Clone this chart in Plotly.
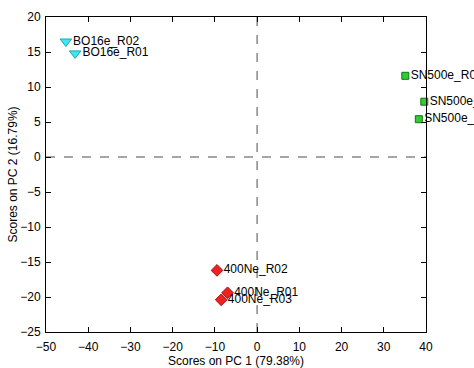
import plotly.graph_objects as go

# PCA scores per sample group
bo_names = ["BO16e_R02", "BO16e_R01"]
bo_pc1 = [-45.3, -43.1]
bo_pc2 = [16.5, 14.8]

sn_names = ["SN500e_R01", "SN500e_R02", "SN500e_R03"]
sn_pc1 = [35.1, 39.6, 38.3]
sn_pc2 = [11.6, 7.9, 5.4]

ne_names = ["400Ne_R02", "400Ne_R01", "400Ne_R03"]
ne_pc1 = [-9.5, -7.0, -8.5]
ne_pc2 = [-16.2, -19.4, -20.4]

x_ticks = [-50, -40, -30, -20, -10, 0, 10, 20, 30, 40]
y_ticks = [-25, -20, -15, -10, -5, 0, 5, 10, 15, 20]

font = dict(family="Liberation Sans, Arial, sans-serif", size=12, color="#000000")

fig = go.Figure()


def add_group(xs, ys, names, symbol, fill, edge, size):
    fig.add_trace(go.Scatter(
        x=xs, y=ys, text=names, mode="markers+text",
        textposition="middle right", textfont=font,
        marker=dict(symbol=symbol, size=size, color=fill,
                    line=dict(color=edge, width=1)),
        cliponaxis=False, showlegend=False,
    ))


add_group(bo_pc1, bo_pc2, bo_names, "triangle-down", "#3EE6F0", "#1AA8B8", 10)
add_group(sn_pc1, sn_pc2, sn_names, "square", "#33CC33", "#117711", 7)
add_group(ne_pc1, ne_pc2, ne_names, "diamond", "#EE2222", "#AA1111", 9)

# dashed reference lines through the origin
fig.add_shape(type="line", xref="x", yref="paper", x0=0, x1=0, y0=0, y1=1,
              line=dict(color="#888888", width=1.5, dash="dash"), layer="below")
fig.add_shape(type="line", xref="paper", yref="y", x0=0, x1=1, y0=0, y1=0,
              line=dict(color="#888888", width=1.5, dash="dash"), layer="below")

axis_common = dict(
    showgrid=False, zeroline=False, showline=True, linecolor="#000000",
    linewidth=1, mirror="ticks", ticks="inside", ticklen=5,
    tickcolor="#000000", tickfont=font, automargin=False,
)

fig.update_layout(
    width=474, height=368,
    margin=dict(l=46, r=48, t=17, b=36),
    paper_bgcolor="#FFFFFF", plot_bgcolor="#FFFFFF",
    font=font,
    xaxis=dict(range=[-50, 40], tickvals=x_ticks, ticklabelstandoff=4,
               title=dict(text="Scores on PC 1 (79.38%)", font=font, standoff=2),
               **axis_common),
    yaxis=dict(range=[-25, 20], tickvals=y_ticks, ticklabelstandoff=2,
               title=dict(text="Scores on PC 2 (16.79%)", font=font, standoff=0),
               **axis_common),
)

fig.write_html("out.html")
